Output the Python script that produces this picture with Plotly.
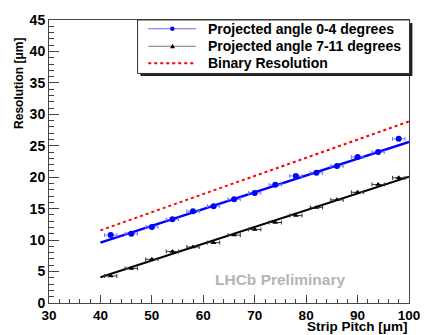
import plotly.graph_objects as go

# ---- data ----
pitch = [42, 46, 50, 54, 58, 62, 66, 70, 74, 78, 82, 86, 90, 94, 98]
res_0_4 = [10.8, 11.0, 12.1, 13.3, 14.6, 15.4, 16.5, 17.5, 18.8, 20.2, 20.7, 21.8, 23.2, 24.0, 26.1]
res_7_11 = [4.3, 5.5, 6.95, 8.2, 8.9, 9.6, 10.8, 11.7, 12.8, 13.9, 15.2, 16.4, 17.6, 18.85, 19.9]
pitch_err = [1.2] * len(pitch)
fit_x = [40, 100]
fit_0_4 = [9.6, 25.6]
fit_7_11 = [4.1, 20.1]
binary_res = [11.55, 28.87]

legend_labels = ["Projected angle 0-4 degrees", "Projected angle 7-11 degrees", "Binary Resolution"]

FONT = "Liberation Sans, Arial, Helvetica, sans-serif"

fig = go.Figure()

# binary resolution
fig.add_trace(go.Scatter(x=fit_x, y=binary_res, mode="lines",
                         line=dict(color="#ff0000", width=2, dash="dot"), showlegend=False))
# fits
fig.add_trace(go.Scatter(x=fit_x, y=fit_0_4, mode="lines",
                         line=dict(color="#0000ff", width=2.5), showlegend=False))
fig.add_trace(go.Scatter(x=fit_x, y=fit_7_11, mode="lines",
                         line=dict(color="#000000", width=2), showlegend=False))
# points
fig.add_trace(go.Scatter(x=pitch, y=res_0_4, mode="markers",
                         marker=dict(color="#0000ff", size=6, symbol="circle"),
                         error_x=dict(type="data", array=pitch_err, color="#7777ff",
                                      thickness=1, width=2),
                         showlegend=False))
fig.add_trace(go.Scatter(x=pitch, y=res_7_11, mode="markers",
                         marker=dict(color="#000000", size=5, symbol="triangle-up"),
                         error_x=dict(type="data", array=pitch_err, color="#333333",
                                      thickness=1, width=2),
                         showlegend=False))

# ---- manual legend (paper coords) ----
W, H = 432, 335
ml, mr, mt, mb = 49, 13, 15, 29
pw, ph = W - ml - mr, H - mt - mb

def px(x):
    return (x - ml) / pw

def py(y):
    return 1 - (y - mt) / ph

shapes = []
# shadow
shapes.append(dict(type="rect", xref="paper", yref="paper",
                   x0=px(143), x1=px(422.5), y0=py(72.5), y1=py(18),
                   fillcolor="#222222", line=dict(width=0), layer="above"))
shapes.append(dict(type="rect", xref="paper", yref="paper",
                   x0=px(140), x1=px(419.5), y0=py(70), y1=py(15),
                   fillcolor="white", line=dict(color="#333333", width=1), layer="above"))
rows = [24, 42, 59.5]
styles = [dict(color="#6666ff", width=1), dict(color="#777777", width=1),
          dict(color="#ff0000", width=2, dash="dot")]
for yy, st in zip(rows, styles):
    shapes.append(dict(type="line", xref="paper", yref="paper",
                       x0=px(151), x1=px(200), y0=py(yy), y1=py(yy), line=st, layer="above"))
# legend markers
shapes.append(dict(type="circle", xref="paper", yref="paper",
                   x0=px(173.5), x1=px(178), y0=py(rows[0] + 2.3), y1=py(rows[0] - 2.3),
                   fillcolor="#0000ff", line=dict(width=0), layer="above"))
shapes.append(dict(type="path", xref="paper", yref="paper",
                   path=f"M {px(173.5)} {py(rows[1]+2)} L {px(178.5)} {py(rows[1]+2)} L {px(176)} {py(rows[1]-2.5)} Z",
                   fillcolor="#000000", line=dict(width=0), layer="above"))

annotations = []
for yy, lab in zip(rows, legend_labels):
    annotations.append(dict(text=lab, xref="paper", yref="paper", x=px(210), y=py(yy),
                            xanchor="left", yanchor="middle", showarrow=False,
                            font=dict(family=FONT, size=14, color="black", weight="bold")))

# axis titles
annotations.append(dict(text="Strip Pitch [\u03bcm]", xref="paper", yref="paper",
                        x=1.0, y=py(330), xanchor="right", yanchor="middle", showarrow=False,
                        borderpad=0,
                        font=dict(family=FONT, size=13.5, color="black", weight="bold")))
annotations.append(dict(text="Resolution [\u03bcm]", xref="paper", yref="paper",
                        x=px(18), y=py(31), xanchor="center", yanchor="top", textangle=-90,
                        showarrow=False,
                        font=dict(family=FONT, size=12, color="black", weight="bold")))
# LHCb label
annotations.append(dict(text="LHCb Preliminary", xref="x", yref="y", x=75, y=3.7,
                        xanchor="center", yanchor="middle", showarrow=False,
                        font=dict(family=FONT, size=15.5, color="#b4b4b4", weight="bold")))

fig.update_layout(
    width=W, height=H,
    margin=dict(l=ml, r=mr, t=mt, b=mb, pad=0),
    paper_bgcolor="white", plot_bgcolor="white",
    shapes=shapes, annotations=annotations,
    showlegend=False,
    xaxis=dict(range=[30, 100], dtick=10, tick0=30, showgrid=False, zeroline=False,
               showline=True, linecolor="#444444", linewidth=1, mirror=True,
               ticks="inside", ticklen=8, tickcolor="#444444",
               minor=dict(dtick=2, ticks="inside", ticklen=4, tickcolor="#444444"),
               tickfont=dict(family=FONT, size=13.5, color="black", weight="bold")),
    yaxis=dict(range=[0, 45], dtick=5, tick0=0, showgrid=False, zeroline=False,
               showline=True, linecolor="#444444", linewidth=1, mirror=True,
               ticks="inside", ticklen=10, tickcolor="#444444",
               minor=dict(dtick=1, ticks="inside", ticklen=5, tickcolor="#444444"),
               tickfont=dict(family=FONT, size=14, color="black", weight="bold")),
)

fig.write_html("out.html", config={"displayModeBar": False},
               post_script="document.body.style.margin='0';")
